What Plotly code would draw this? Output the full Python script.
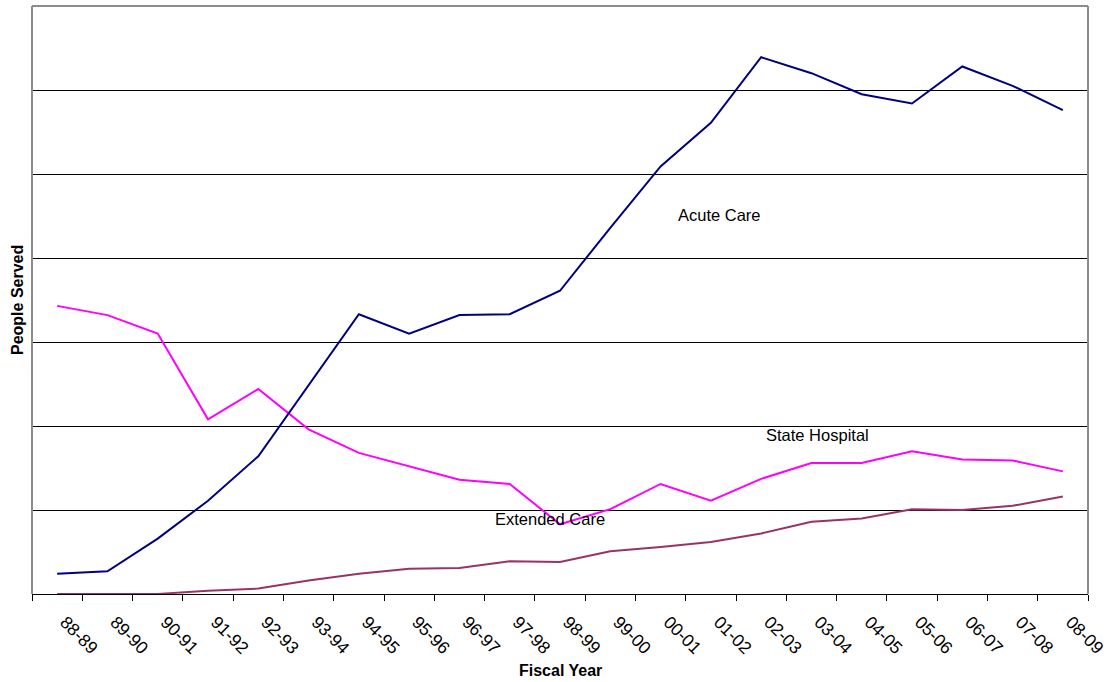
import plotly.graph_objects as go

# Fiscal years on the category axis
fiscal_years = ["88-89", "89-90", "90-91", "91-92", "92-93", "93-94", "94-95",
                "95-96", "96-97", "97-98", "98-99", "99-00", "00-01", "01-02",
                "02-03", "03-04", "04-05", "05-06", "06-07", "07-08", "08-09"]

# People served per program (units of one gridline step)
acute_care = [0.24, 0.27, 0.66, 1.11, 1.64, 2.49, 3.33, 3.10, 3.32, 3.33, 3.61,
              4.36, 5.09, 5.61, 6.39, 6.20, 5.95, 5.84, 6.28, 6.05, 5.76]
state_hospital = [3.43, 3.32, 3.10, 2.08, 2.44, 1.96, 1.68, 1.52, 1.36, 1.31, 0.83,
                  1.01, 1.31, 1.11, 1.37, 1.56, 1.56, 1.70, 1.60, 1.59, 1.46]
extended_care = [0.0, 0.0, 0.0, 0.04, 0.065, 0.16, 0.24, 0.30, 0.31, 0.39, 0.38,
                 0.51, 0.56, 0.62, 0.72, 0.86, 0.90, 1.01, 1.00, 1.05, 1.16]

FONT = "Liberation Sans, Arial, sans-serif"

fig = go.Figure()
fig.add_trace(go.Scatter(x=fiscal_years, y=extended_care, mode="lines",
                         line=dict(color="#993366", width=2), name="Extended Care"))
fig.add_trace(go.Scatter(x=fiscal_years, y=state_hospital, mode="lines",
                         line=dict(color="#FF00FF", width=2), name="State Hospital"))
fig.add_trace(go.Scatter(x=fiscal_years, y=acute_care, mode="lines",
                         line=dict(color="#000080", width=2), name="Acute Care"))

# Series labels placed inside the plot
series_labels = [("Acute Care", 13.18, 4.51),
                 ("State Hospital", 15.13, 1.89),
                 ("Extended Care", 9.80, 0.89)]
annotations = [dict(text=t, x=xv, y=yv, xref="x", yref="y", showarrow=False,
                    xanchor="center", yanchor="middle",
                    font=dict(family=FONT, size=16.5, color="#000000"))
               for t, xv, yv in series_labels]

# Axis titles
annotations.append(dict(text="<b>Fiscal Year</b>", x=0.5, y=-0.1293, xref="paper",
                        yref="paper", showarrow=False, xanchor="center",
                        yanchor="middle",
                        font=dict(family=FONT, size=16, color="#000000")))
annotations.append(dict(text="<b>People Served</b>", x=-0.0142, y=0.5, xref="paper",
                        yref="paper", showarrow=False, xanchor="center",
                        yanchor="middle", textangle=-90,
                        font=dict(family=FONT, size=16, color="#000000")))

# Gray frame on left, top and right of the plot area
frame = [
    dict(type="line", xref="paper", yref="paper", x0=0, x1=0, y0=0, y1=1,
         line=dict(color="#8c8c8c", width=2)),
    dict(type="line", xref="paper", yref="paper", x0=0, x1=1, y0=1, y1=1,
         line=dict(color="#8c8c8c", width=2)),
    dict(type="line", xref="paper", yref="paper", x0=1, x1=1, y0=0, y1=1,
         line=dict(color="#8c8c8c", width=2)),
]

fig.update_layout(
    width=1109, height=682,
    margin=dict(l=32, r=21, t=6, b=88, autoexpand=False),
    paper_bgcolor="white", plot_bgcolor="white",
    showlegend=False,
    annotations=annotations,
    shapes=frame,
    font=dict(family=FONT, size=16, color="#000000"),
    xaxis=dict(type="category", categoryorder="array", categoryarray=fiscal_years,
               range=[-0.5, len(fiscal_years) - 0.5], automargin=False,
               tickson="boundaries", ticks="outside", ticklen=6, tickwidth=1,
               tickcolor="#000000", showline=True, linecolor="#000000",
               linewidth=1, showgrid=False, tickangle=45,
               ticklabelstandoff=10, ticklabelshift=8,
               tickfont=dict(family=FONT, size=17.5, color="#000000")),
    yaxis=dict(range=[0, 7], dtick=1, showgrid=True, gridcolor="#000000",
               gridwidth=1, zeroline=False, showticklabels=False, ticks="",
               showline=False, automargin=False),
)

fig.write_html("out.html")
